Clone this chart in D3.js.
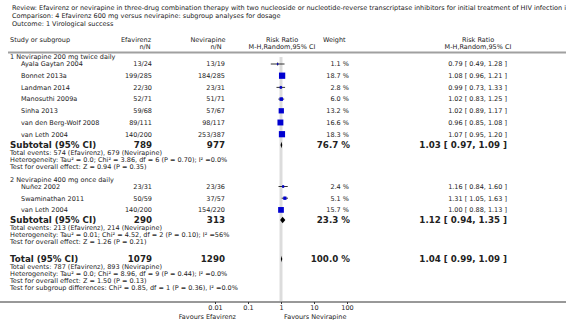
<!DOCTYPE html>
<html><head><meta charset="utf-8">
<script src="https://cdn.jsdelivr.net/npm/d3@7"></script>
<style>
body{margin:0;background:#fff;}
svg{display:block;font-family:"DejaVu Sans",Verdana,sans-serif;}
</style></head>
<body><svg id="c" width="566" height="320"></svg>
<script>
const titleLines = [
  "Review:  Efavirenz or nevirapine in three-drug combination therapy with two nucleoside or nucleotide-reverse transcriptase inhibitors for initial treatment of HIV infection in antiretroviral-naive individuals",
  "Comparison:  4 Efavirenz 600 mg versus nevirapine: subgroup analyses for dosage",
  "Outcome:  1 Virological success"
];
const groupNames = ["1 Nevirapine 200 mg twice daily", "2 Nevirapine 400 mg once daily"];
const studies = [
  ["Ayala Gaytan 2004", "Bonnet 2013a", "Landman 2014", "Manosuthi 2009a", "Sinha 2013", "van den Berg-Wolf 2008", "van Leth 2004"],
  ["Nuñez 2002", "Swaminathan 2011", "van Leth 2004"]
];
const efaNN = [["13/24","199/285","22/30","52/71","59/68","89/111","140/200"],["23/31","50/59","140/200"]];
const nevNN = [["13/19","184/285","23/31","51/71","57/67","98/117","253/387"],["23/36","37/57","154/220"]];
const weights = [[1.1,18.7,2.8,6.0,13.2,16.6,18.3],[2.4,5.1,15.7]];
const rr = [[0.79,1.08,0.99,1.02,1.02,0.96,1.07],[1.16,1.31,1.00]];
const lo = [[0.49,0.96,0.73,0.83,0.89,0.85,0.95],[0.84,1.05,0.88]];
const hi = [[1.28,1.21,1.33,1.25,1.17,1.08,1.20],[1.60,1.63,1.13]];
const subEfaN = [789, 290], subNevN = [977, 313], subW = [76.7, 23.3];
const subRR = [1.03, 1.12], subLo = [0.97, 0.94], subHi = [1.09, 1.35];
const subNotes = [
  ["Total events: 574 (Efavirenz), 679 (Nevirapine)",
   "Heterogeneity: Tau² = 0.0; Chi² = 3.86, df = 6 (P = 0.70); I² =0.0%",
   "Test for overall effect: Z = 0.94 (P = 0.35)"],
  ["Total events: 213 (Efavirenz), 214 (Nevirapine)",
   "Heterogeneity: Tau² = 0.01; Chi² = 4.52, df = 2 (P = 0.10); I² =56%",
   "Test for overall effect: Z = 1.26 (P = 0.21)"]
];
const totEfaN = 1079, totNevN = 1290, totW = 100.0, totRR = 1.04, totLo = 0.99, totHi = 1.09;
const totNotes = [
  "Total events: 787 (Efavirenz), 893 (Nevirapine)",
  "Heterogeneity: Tau² = 0.0; Chi² = 8.96, df = 9 (P = 0.44); I² =0.0%",
  "Test for overall effect: Z = 1.50 (P = 0.13)",
  "Test for subgroup differences: Chi² = 0.85, df = 1 (P = 0.36), I² =0.0%"
];
const tickVals = [0.01, 0.1, 1, 10, 100];
const tickLabels = ["0.01", "0.1", "1", "10", "100"];
const favLeft = "Favours Efavirenz", favRight = "Favours Nevirapine";

const svg = d3.select("#c");
const txt = "#222", fs = 6.5, fsB = 8.7;
const x = d3.scaleLog().domain([0.01, 100]).range([215, 347]);
const xName = 10, xIndent = 21, xEfa = 152, xNev = 225, xW = 349, xRR = 507;
const fmt2 = d3.format(".2f"), fmtW = d3.format(".1f");
const rrText = (m,l,h) => `${fmt2(m)} [ ${fmt2(l)}, ${fmt2(h)} ]`;

function T(xp, yp, s, opt={}) {
  return svg.append("text").attr("x", xp).attr("y", yp).text(s)
    .attr("font-size", opt.b ? fsB : (opt.fs || fs)).attr("font-weight", opt.b ? "bold" : "normal")
    .attr("text-anchor", opt.a || "start").attr("fill", txt);
}

// titles
titleLines.forEach((s,i) => T(12, 10 + i*8, s));
// headers
T(xName, 42, "Study or subgroup");
T(136, 42, "Efavirenz", {a:"middle"}); T(145, 49, "n/N", {a:"middle"});
T(208, 42, "Nevirapine", {a:"middle"}); T(216, 49, "n/N", {a:"middle"});
T(282, 42, "Risk Ratio", {a:"middle"}); T(282, 49, "M-H,Random,95% CI", {a:"middle"});
T(323, 42, "Weight");
T(478, 42, "Risk Ratio", {a:"middle"}); T(478, 49, "M-H,Random,95% CI", {a:"middle"});
svg.append("line").attr("x1", 8).attr("x2", 566).attr("y1", 52.5).attr("y2", 52.5)
  .attr("stroke", "#a0a0a0").attr("stroke-width", 2);

// null line
svg.append("line").attr("x1", x(1)).attr("x2", x(1)).attr("y1", 57).attr("y2", 301)
  .attr("stroke", "#dcdcdc").attr("stroke-width", 3);

const groupY = [57, 180];
const rowStarts = [64, 186.5];
const rowStep = [11.7, 11.7];
const subY = [145, 220];

function diamond(yc, l, m, h) {
  const hh = 3.2;
  svg.append("path").attr("fill", "#000")
    .attr("d", `M${x(l)},${yc} L${x(m)},${yc-hh} L${x(h)},${yc} L${x(m)},${yc+hh} Z`);
}

groupNames.forEach((g, gi) => {
  T(xName, groupY[gi] + 2.3, g);
  studies[gi].forEach((s, i) => {
    const yc = rowStarts[gi] + i * rowStep[gi];
    const yb = yc + 2.3;
    T(xIndent, yb, s);
    T(xEfa, yb, efaNN[gi][i], {a:"end"});
    T(xNev, yb, nevNN[gi][i], {a:"end"});
    T(xW, yb, fmtW(weights[gi][i]) + " %", {a:"end"});
    T(xRR, yb, rrText(rr[gi][i], lo[gi][i], hi[gi][i]), {a:"end"});
    svg.append("line").attr("x1", x(lo[gi][i])).attr("x2", x(hi[gi][i]))
      .attr("y1", yc).attr("y2", yc).attr("stroke", "#000").attr("stroke-width", 0.8);
    svg.append("line").attr("x1", x(rr[gi][i])).attr("x2", x(rr[gi][i]))
      .attr("y1", yc-1.5).attr("y2", yc+1.5).attr("stroke", "#000").attr("stroke-width", 0.8);
    const side = 1.45 * Math.sqrt(weights[gi][i]);
    svg.append("rect").attr("x", x(rr[gi][i]) - side/2).attr("y", yc - side/2)
      .attr("width", side).attr("height", side).attr("fill", "#0000d0");
  });
  const sy = subY[gi];
  T(xName, sy + 3.1, "Subtotal (95% CI)", {b:true});
  T(xEfa, sy + 3.1, subEfaN[gi], {b:true, a:"end"});
  T(xNev, sy + 3.1, subNevN[gi], {b:true, a:"end"});
  T(xW + 1, sy + 3.1, fmtW(subW[gi]) + " %", {b:true, a:"end"});
  T(xRR, sy + 3.1, rrText(subRR[gi], subLo[gi], subHi[gi]), {b:true, a:"end"});
  diamond(sy, subLo[gi], subRR[gi], subHi[gi]);
  subNotes[gi].forEach((s, i) => T(xName, sy + 9.8 + i*7, s));
});

const ty = 259;
T(xName, ty + 3.1, "Total (95% CI)", {b:true});
T(xEfa, ty + 3.1, totEfaN, {b:true, a:"end"});
T(xNev, ty + 3.1, totNevN, {b:true, a:"end"});
T(xW + 1, ty + 3.1, fmtW(totW) + " %", {b:true, a:"end"});
T(xRR, ty + 3.1, rrText(totRR, totLo, totHi), {b:true, a:"end"});
diamond(ty, totLo, totRR, totHi);
totNotes.forEach((s, i) => T(xName, ty + 9.8 + i*7, s));

// axis
const ay = 302;
svg.append("line").attr("x1", 0).attr("x2", 566).attr("y1", ay).attr("y2", ay)
  .attr("stroke", "#333").attr("stroke-width", 1);
const axis = d3.axisBottom(x).tickValues(tickVals).tickFormat((d,i) => tickLabels[i])
  .tickSize(2).tickSizeOuter(0).tickPadding(1.5);
const ag = svg.append("g").attr("transform", `translate(0,${ay})`).call(axis);
ag.select(".domain").remove();
ag.selectAll("text").attr("font-size", fs).attr("fill", txt).attr("dy", "0.71em")
  .attr("font-family", '"DejaVu Sans",Verdana,sans-serif');
ag.selectAll("line").attr("stroke", "#333");
T(236, 318.5, favLeft, {a:"end"});
T(284, 318.5, favRight);
</script></body></html>
